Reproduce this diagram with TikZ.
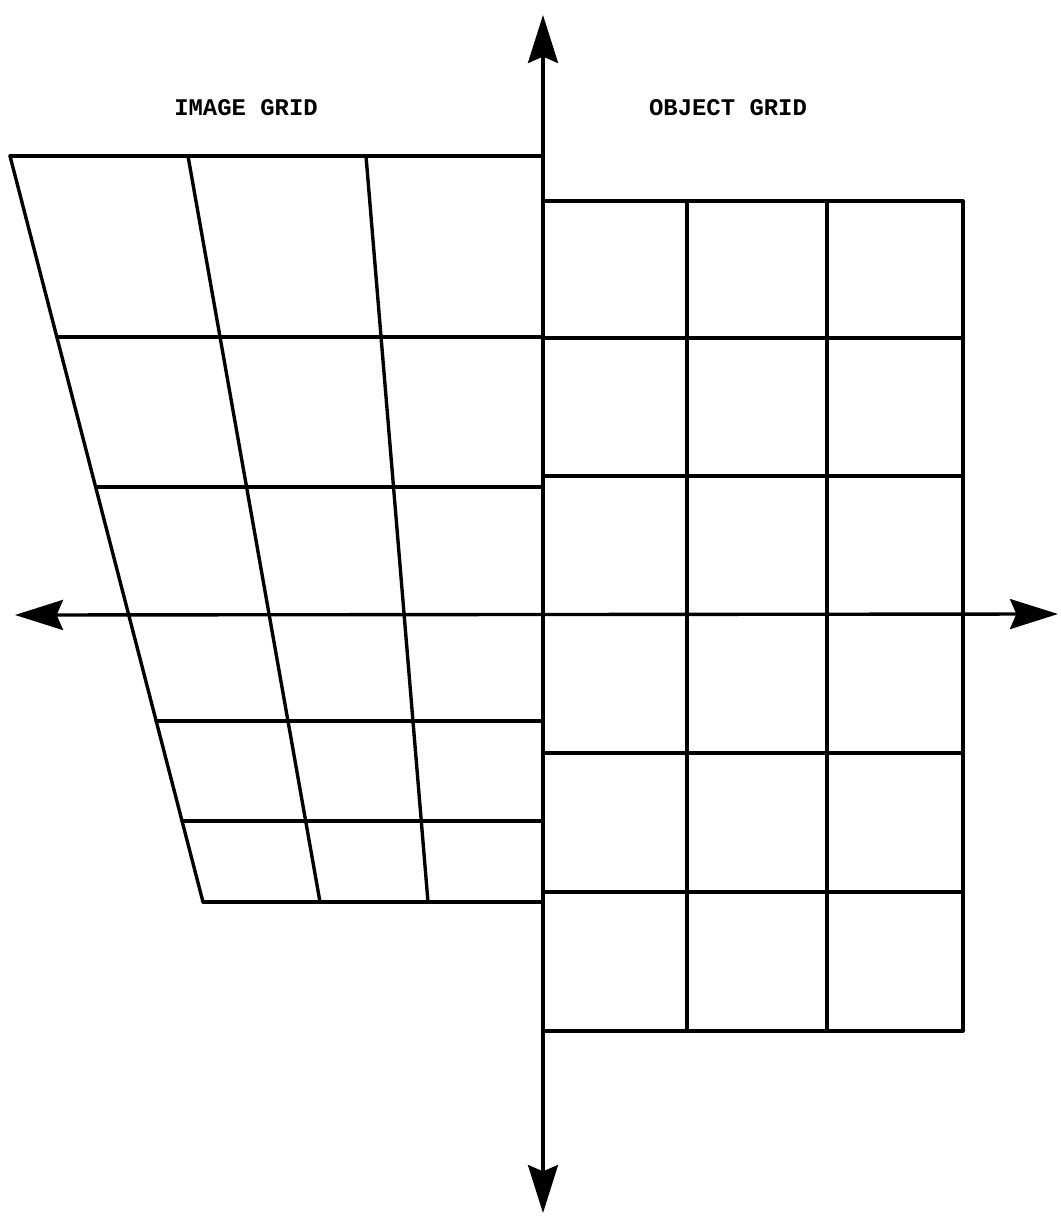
\documentclass[tikz,border=0pt]{standalone}
\usepackage{fontspec}
\newfontfamily\gridfont{Liberation Mono}
\usetikzlibrary{arrows.meta}
\tikzset{
    gridline/.style={line width=2.4pt, line cap=round},
    axisline/.style={line width=2.4pt, {Stealth[length=1.2cm,width=0.75cm,inset=0.16cm]}-{Stealth[length=1.2cm,width=0.75cm,inset=0.16cm]}},
    gridlabel/.style={font=\gridfont\bfseries\fontsize{17}{20}\selectfont}
}
\begin{document}
\begin{tikzpicture}[x=0.025cm,y=-0.025cm]
    \useasboundingbox (0,0) rectangle (1060,1216);
    %Labels
    \node[gridlabel] (imagelabel) at (246,108) {IMAGE GRID};
    \node[gridlabel] (objectlabel) at (728,108) {OBJECT GRID};
    %Object grid
    \foreach \y in {201,338,476,753,892,1031}
        \draw[gridline] (543,\y) -- (963,\y);
    \foreach \x in {687,827,963}
        \draw[gridline] (\x,201) -- (\x,1031);
    %Image grid
    \draw[gridline] (10,156) -- (543,156);
    \draw[gridline] (203,902) -- (543,902);
    \draw[gridline] (10,156) -- (203,902);
    \draw[gridline] (188,156) -- (320,902);
    \draw[gridline] (366,156) -- (428,902);
    \foreach \t/\y in {0.2426/337,0.4437/487,0.7574/721,0.8914/821}
        \draw[gridline] ({10+193*\t},\y) -- (543,\y);
    %Axes
    \draw[axisline] (15,615) -- (1058,614);
    \draw[axisline] (543,15) -- (543,1213);
\end{tikzpicture}
\end{document}
